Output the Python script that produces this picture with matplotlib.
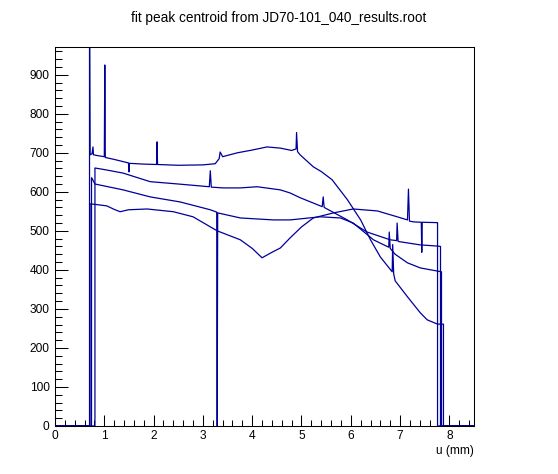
# fit peak centroid vs u, four scan traces (ROOT style)
import numpy as np
import matplotlib
matplotlib.use('Agg')
import matplotlib.pyplot as plt
from matplotlib.ticker import MultipleLocator

plt.rcParams['font.family'] = ['Liberation Sans', 'DejaVu Sans']

# trace A (top at left, falls steeply at the right)
u_a = [0, 0.70, 0.70, 0.71, 0.75, 0.77, 0.78, 0.85, 1.00, 1.01, 1.02, 1.2, 1.49, 1.50, 1.51,
       1.8, 2.06, 2.07, 2.08, 2.5, 3.0, 3.25, 3.33, 3.35, 3.40, 3.7, 4.0, 4.3, 4.57, 4.8,
       4.89, 4.90, 4.92, 4.97, 5.24, 5.40, 5.62, 5.93, 6.2, 6.4, 6.6, 6.84, 6.85, 6.87,
       6.9, 7.15, 7.41, 7.55, 7.76, 7.88, 7.88, 8.5]
c_a = [0, 0, 1100, 695, 697, 715, 695, 693, 690, 925, 688, 683, 674, 651, 673,
       671, 670, 728, 670, 668, 669, 672, 685, 702, 690, 700, 707, 715, 712, 706,
       710, 752, 703, 695, 664, 652, 631, 580, 528, 477, 433, 395, 465, 390,
       372, 331, 290, 272, 261, 261, 0, 0]

# trace B
u_b = [0, 0.81, 0.81, 1.0, 1.38, 1.93, 2.5, 3.13, 3.15, 3.17, 3.41, 3.76, 4.1, 4.57, 4.77,
       4.97, 5.42, 5.44, 5.46, 5.93, 6.33, 6.8, 6.93, 6.94, 6.96, 7.0, 7.41, 7.76, 7.82,
       7.82, 8.5]
c_b = [0, 0, 661, 657, 648, 626, 620, 613, 654, 612, 610, 610, 613, 605, 597,
       585, 562, 587, 560, 528, 497, 477, 475, 520, 473, 472, 464, 461, 460,
       0, 0]

# trace C (has a dropout near u = 3.3)
u_c = [0, 0.74, 0.74, 0.76, 0.81, 1.38, 1.93, 2.54, 3.15, 3.28, 3.29, 3.30, 3.76, 4.43,
       4.77, 5.38, 5.79, 6.05, 6.46, 6.77, 6.78, 6.80, 6.9, 7.15, 7.41, 7.84, 7.84, 8.5]
c_c = [0, 0, 636, 632, 620, 605, 587, 574, 554, 548, 0, 546, 533, 528,
       528, 536, 533, 520, 477, 458, 497, 455, 440, 418, 405, 395, 0, 0]

# trace D (bottom at left, dip around u = 4.2)
u_d = [0, 0.71, 0.71, 0.8, 1.05, 1.2, 1.32, 1.49, 1.87, 2.4, 2.8, 3.29, 3.76, 4.0, 4.2,
       4.4, 4.57, 4.77, 5.0, 5.24, 5.65, 6.05, 6.54, 6.94, 7.15, 7.17, 7.19, 7.27, 7.43,
       7.44, 7.45, 7.76, 7.76, 8.5]
c_d = [0, 0, 569, 568, 564, 555, 549, 554, 556, 549, 536, 500, 477, 455, 431,
       445, 456, 482, 510, 533, 546, 556, 551, 536, 528, 607, 525, 523, 522,
       445, 522, 521, 0, 0]

traces = [(u_a, c_a), (u_b, c_b), (u_c, c_c), (u_d, c_d)]

fig = plt.figure(figsize=(5.58, 4.74), dpi=100)
ax = fig.add_axes([0.0986, 0.1013, 0.7509, 0.7995])

for u, c in traces:
    ax.plot(u, c, color='#000099', linewidth=0.9)

ax.set_xlim(0, 8.5)
ax.set_ylim(0, 971)
ax.xaxis.set_major_locator(MultipleLocator(1))
ax.xaxis.set_minor_locator(MultipleLocator(0.2))
ax.yaxis.set_major_locator(MultipleLocator(100))
ax.yaxis.set_minor_locator(MultipleLocator(20))

ax.tick_params(axis='both', which='both', direction='in', top=False, right=False,
               labelsize=8.6, width=0.75)
ax.tick_params(axis='x', which='major', length=8.0, pad=3)
ax.tick_params(axis='x', which='minor', length=4.1)
ax.tick_params(axis='y', which='major', length=9.5, pad=4)
ax.tick_params(axis='y', which='minor', length=4.7)
for s in ax.spines.values():
    s.set_linewidth(0.75)

ax.set_xlabel('u (mm)', fontsize=8.6, loc='right', labelpad=2)
fig.text(0.5, 0.962, 'fit peak centroid from JD70-101_040_results.root',
         ha='center', va='center', fontsize=9.8)

plt.savefig('out.png', dpi=100)
